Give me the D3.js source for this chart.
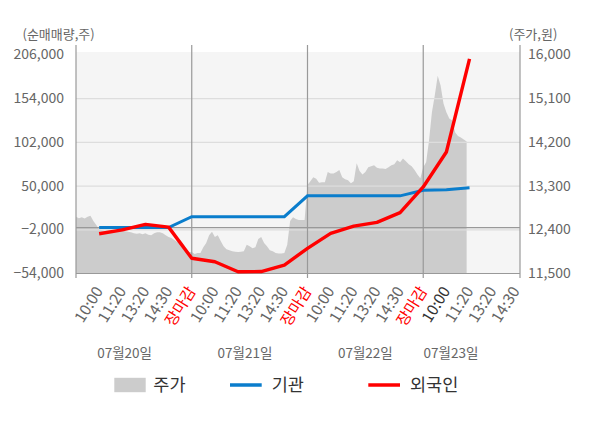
<!DOCTYPE html>
<html>
<head>
<meta charset="utf-8">
<script src="https://cdn.jsdelivr.net/npm/d3@7"></script>
<style>
  body { margin: 0; background: #fff; }
  svg text { font-family: "Noto Sans CJK KR", "Noto Sans", sans-serif; }
</style>
</head>
<body>
<div id="chart"></div>
<script>
// Data
const timeLabels = [
  '10:00', '11:20', '13:20', '14:30', '장마감',
  '10:00', '11:20', '13:20', '14:30', '장마감',
  '10:00', '11:20', '13:20', '14:30', '장마감',
  '10:00', '11:20', '13:20', '14:30'
]
const dayLabels = ['07월20일', '07월21일', '07월22일', '07월23일']

// 주가 (원), 8 readings per label slot
const price0720 = [
  12660, 12630, 12650, 12620, 12660, 12680, 12570, 12490, 12400, 12380,
  12370, 12380, 12390, 12380, 12370, 12360, 12380, 12360, 12350, 12340,
  12320, 12310, 12320, 12300, 12320, 12290, 12280, 12320, 12340, 12340,
  12320, 12280, 12240, 12220, 12180, 12140, 12180, 12100, 12010, 11930
]
const price0721 = [
  11930, 11890, 11910, 11910, 12030, 12120, 12280, 12350, 12240, 12280,
  12160, 12050, 11990, 11970, 11950, 11940, 11930, 11940, 11950, 12080,
  12050, 12010, 12030, 12200, 12240, 12120, 12050, 11970, 11950, 11910,
  11900, 11900, 11910, 12080, 12570, 12650, 12610, 12590, 12590, 12590
]
const price0722 = [
  13310, 13390, 13470, 13440, 13360, 13370, 13370, 13580, 13550, 13550,
  13580, 13620, 13470, 13430, 13410, 13350, 13390, 13760, 13600, 13530,
  13580, 13680, 13700, 13720, 13670, 13650, 13650, 13640, 13680, 13720,
  13740, 13820, 13780, 13860, 13800, 13740, 13700, 13620, 13530, 13450
]
const price0723 = [
  13680, 13780, 14230, 14810, 15160, 15560, 15360, 14990, 14810, 14680,
  14640, 14400, 14320, 14290, 14250, 14210
]

// 순매매량 (주), one value per label from 07/20 10:00 to 07/23 11:20
const institution = [
  0, 0, 0, 0, 13000, 13000, 13000, 13000, 13000,
  37800, 37800, 37800, 37800, 37800, 44500, 45100, 47300
]
const foreign = [
  -7300, -2700, 3800, 600, -36500, -40600, -52500, -52300, -44500,
  -24700, -6900, 1800, 6200, 17800, 48400, 90000, 200900
]

const leftTicks = [-54000, -2000, 50000, 102000, 154000, 206000]
const rightTicks = [11500, 12400, 13300, 14200, 15100, 16000]

// Dimensions
const dimensions = {
  width: 600,
  height: 428,
  left: 76,
  right: 520,
  top: 54.5,
  bottom: 273,
}
const slotsPerDay = 5
const readingsPerSlot = 8

const svg = d3.select('#chart')
  .append('svg')
  .attr('width', dimensions.width)
  .attr('height', dimensions.height)

// Scales
const xScale = d3.scaleLinear()
  .domain([0, 19.18])
  .range([dimensions.left, dimensions.right])

const yLeft = d3.scaleLinear()
  .domain([-54000, 206000])
  .range([dimensions.bottom, dimensions.top])

const yRight = d3.scaleLinear()
  .domain([11500, 16000])
  .range([dimensions.bottom, dimensions.top])

const priceSeries = [price0720, price0721, price0722, price0723]
  .flatMap((arr, d) => arr.map((v, i) => ({
    slot: d * slotsPerDay + i / readingsPerSlot,
    value: v
  })))
const instSeries = institution.map((v, i) => ({ slot: i + 1, value: v }))
const foreignSeries = foreign.map((v, i) => ({ slot: i + 1, value: v }))

// Background
svg.append('rect')
  .attr('x', dimensions.left)
  .attr('y', 52)
  .attr('width', dimensions.right - dimensions.left)
  .attr('height', dimensions.bottom - 52)
  .attr('fill', '#f5f5f5')

// Price area
const areaGenerator = d3.area()
  .x(d => xScale(d.slot))
  .y0(dimensions.bottom)
  .y1(d => yRight(d.value))

svg.append('path')
  .datum(priceSeries)
  .attr('d', areaGenerator)
  .attr('fill', '#cccccc')

// Grid
svg.append('g')
  .selectAll('line')
  .data(leftTicks.slice(1, -1))
  .join('line')
  .attr('x1', dimensions.left)
  .attr('x2', dimensions.right)
  .attr('y1', d => yLeft(d) + 0.5)
  .attr('y2', d => yLeft(d) + 0.5)
  .attr('stroke', '#dddddd')
  .attr('stroke-width', 1.2)

svg.append('line')
  .attr('x1', dimensions.left)
  .attr('x2', dimensions.right)
  .attr('y1', yLeft(0))
  .attr('y2', yLeft(0))
  .attr('stroke', '#999')
  .attr('stroke-width', 1.2)

const dayEdges = [0, 1, 2, 3].map(d => xScale(d * slotsPerDay)).concat(dimensions.right)
svg.append('g')
  .selectAll('line')
  .data(dayEdges)
  .join('line')
  .attr('x1', d => d)
  .attr('x2', d => d)
  .attr('y1', 45)
  .attr('y2', dimensions.bottom + 5)
  .attr('stroke', '#999')
  .attr('stroke-width', 1.2)

svg.append('line')
  .attr('x1', dimensions.left)
  .attr('x2', dimensions.right)
  .attr('y1', dimensions.bottom + 0.5)
  .attr('y2', dimensions.bottom + 0.5)
  .attr('stroke', '#999')
  .attr('stroke-width', 1.2)

// Lines
const lineLeft = d3.line()
  .x(d => xScale(d.slot))
  .y(d => yLeft(d.value))

svg.append('path')
  .datum(instSeries)
  .attr('d', lineLeft)
  .attr('fill', 'none')
  .attr('stroke', '#0a7dcc')
  .attr('stroke-width', 3)

svg.append('path')
  .datum(foreignSeries)
  .attr('d', lineLeft)
  .attr('fill', 'none')
  .attr('stroke', '#ff0000')
  .attr('stroke-width', 3.4)
  .attr('stroke-linejoin', 'round')

// Axes
const fmt = d3.format(',')
const yAxisLeft = svg.append('g')
  .attr('transform', `translate(${dimensions.left - 12}, 0)`)
  .call(d3.axisLeft(yLeft).tickValues(leftTicks).tickFormat(fmt).tickSize(0).tickPadding(0))
yAxisLeft.select('.domain').remove()

const yAxisRight = svg.append('g')
  .attr('transform', `translate(${dimensions.right + 8}, 0)`)
  .call(d3.axisRight(yRight).tickValues(rightTicks).tickFormat(fmt).tickSize(0).tickPadding(0))
yAxisRight.select('.domain').remove()

svg.selectAll('.tick text')
  .attr('fill', '#666')
  .style('font-size', '14px')
  .style('font-family', '"Noto Sans CJK KR", sans-serif')

const xAxis = svg.append('g')
  .attr('transform', `translate(0, ${dimensions.bottom})`)
  .call(d3.axisBottom(xScale)
    .tickValues(d3.range(1, timeLabels.length + 1))
    .tickFormat((d, i) => timeLabels[i])
    .tickSize(0))
xAxis.select('.domain').remove()
xAxis.selectAll('text')
  .attr('text-anchor', 'end')
  .attr('x', 0)
  .attr('y', 0)
  .attr('dy', 0)
  .attr('transform', 'translate(4, 18) rotate(-58)')
  .style('font-size', '15.5px')
  .style('font-family', '"Noto Sans CJK KR", sans-serif')
  .attr('fill', (d, i) => timeLabels[i] === '장마감' ? '#ff0000'
    : (i === 3 * slotsPerDay ? '#333' : '#666'))

// Day labels
const dateLabelSlot = [2.1, 7.3, 12.5, 16.2]
svg.append('g')
  .selectAll('text')
  .data(dayLabels)
  .join('text')
  .attr('x', (d, i) => xScale(dateLabelSlot[i]))
  .attr('y', 358)
  .attr('text-anchor', 'middle')
  .attr('fill', '#666')
  .style('font-size', '13.5px')
  .text(d => d)

// Unit titles
svg.append('text')
  .attr('x', 22.5)
  .attr('y', 38.5)
  .attr('fill', '#666')
  .style('font-size', '13px')
  .text('(순매매량,주)')

svg.append('text')
  .attr('x', 509)
  .attr('y', 38.5)
  .attr('fill', '#666')
  .style('font-size', '13px')
  .text('(주가,원)')

// Legend
const legend = svg.append('g').attr('transform', 'translate(0, 385)')
legend.append('rect')
  .attr('x', 114.3).attr('y', -7.2)
  .attr('width', 31.4).attr('height', 14.4)
  .attr('fill', '#cccccc')
legend.append('line')
  .attr('x1', 230).attr('x2', 261.7)
  .attr('stroke', '#0a7dcc').attr('stroke-width', 3.5)
legend.append('line')
  .attr('x1', 368.3).attr('x2', 400)
  .attr('stroke', '#ff0000').attr('stroke-width', 3.5)
legend.selectAll('text')
  .data([['주가', 153.3], ['기관', 271.7], ['외국인', 410]])
  .join('text')
  .attr('x', d => d[1])
  .attr('y', 6.3)
  .attr('fill', '#333')
  .style('font-size', '17.5px')
  .text(d => d[0])
</script>
</body>
</html>
